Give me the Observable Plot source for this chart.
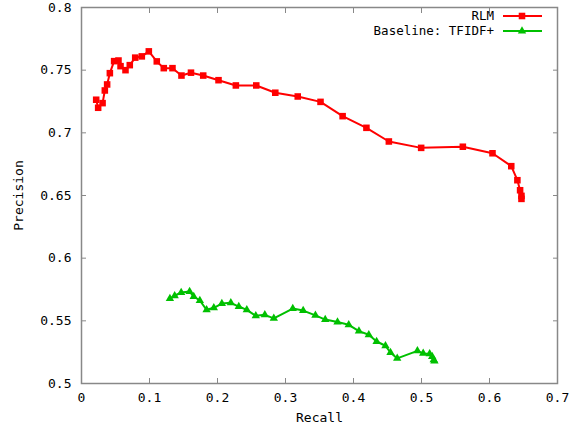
<!DOCTYPE html>
<html>
<head>
<meta charset="utf-8">
<script src="https://cdn.jsdelivr.net/npm/d3@7"></script>
<script src="https://cdn.jsdelivr.net/npm/@observablehq/plot@0.6"></script>
<style>
  html, body { margin: 0; padding: 0; background: #fff; }
  #chart { position: relative; width: 581px; height: 428px; }
  svg text { font-family: "DejaVu Sans Mono", monospace; }
</style>
</head>
<body>
<div id="chart"></div>
<script>
// ---- Data ----
const rlmRecall = [0.0216, 0.0245, 0.031, 0.0343, 0.0377, 0.0417, 0.048, 0.0544, 0.0574, 0.0647, 0.071, 0.079, 0.0887, 0.099, 0.1107, 0.121, 0.1338, 0.147, 0.161, 0.179, 0.2015, 0.227, 0.257, 0.285, 0.318, 0.3515, 0.384, 0.419, 0.452, 0.4995, 0.5608, 0.6044, 0.632, 0.641, 0.645, 0.647, 0.647];
const rlmPrecision = [0.7264, 0.720, 0.7237, 0.7338, 0.7386, 0.7476, 0.7572, 0.7577, 0.7532, 0.750, 0.754, 0.760, 0.761, 0.765, 0.757, 0.7516, 0.7516, 0.7457, 0.748, 0.7457, 0.742, 0.7378, 0.7378, 0.732, 0.729, 0.7247, 0.7133, 0.704, 0.6931, 0.688, 0.6889, 0.6837, 0.6734, 0.6622, 0.6542, 0.6497, 0.6473];
const baseRecall = [0.130, 0.137, 0.1466, 0.159, 0.165, 0.174, 0.184, 0.1946, 0.2064, 0.2196, 0.2313, 0.2431, 0.2563, 0.2696, 0.2828, 0.3107, 0.326, 0.344, 0.3584, 0.3765, 0.393, 0.408, 0.4225, 0.434, 0.447, 0.4544, 0.4643, 0.494, 0.5025, 0.512, 0.5157, 0.518, 0.519];
const basePrecision = [0.5678, 0.570, 0.5726, 0.5734, 0.5694, 0.5662, 0.5588, 0.5604, 0.5638, 0.5644, 0.5614, 0.5588, 0.554, 0.5548, 0.552, 0.5598, 0.5582, 0.5543, 0.551, 0.549, 0.5468, 0.5418, 0.5389, 0.5335, 0.5301, 0.5247, 0.520, 0.526, 0.524, 0.5237, 0.5215, 0.5189, 0.5178];
const xTicks = [0, 0.1, 0.2, 0.3, 0.4, 0.5, 0.6, 0.7];
const yTicks = [0.5, 0.55, 0.6, 0.65, 0.7, 0.75, 0.8];
const seriesNames = ["RLM", "Baseline: TFIDF+"];
const seriesColors = ["#ff0000", "#00c000"];
const seriesSymbols = ["square", "triangle"];

const rlm = rlmRecall.map((x, i) => ({x, y: rlmPrecision[i]}));
const base = baseRecall.map((x, i) => ({x, y: basePrecision[i]}));
const fmt = d => String(+d.toFixed(2));
const frameColor = "#888";

const plot = Plot.plot({
  width: 581,
  height: 428,
  marginLeft: 81,
  marginRight: 24,
  marginTop: 7,
  marginBottom: 45,
  style: {fontFamily: "DejaVu Sans Mono, monospace", fontSize: "13px", color: "#000", background: "#fff"},
  x: {domain: [0, 0.7]},
  y: {domain: [0.5, 0.8]},
  marks: [
    Plot.frame({stroke: frameColor, strokeWidth: 1.5}),
    Plot.axisX(xTicks, {anchor: "bottom", tickSize: -5, stroke: frameColor, tickPadding: 14, tickFormat: fmt, label: "Recall", labelAnchor: "center", labelArrow: "none", labelOffset: 38, fill: "#000"}),
    Plot.axisX(xTicks, {anchor: "top", tickSize: -5, stroke: frameColor, tickFormat: () => "", label: null}),
    Plot.axisY(yTicks, {anchor: "left", tickSize: -5, stroke: frameColor, tickPadding: 15, tickFormat: fmt, label: "Precision", labelAnchor: "center", labelArrow: "none", labelOffset: 68, fill: "#000"}),
    Plot.axisY(yTicks, {anchor: "right", tickSize: -5, stroke: frameColor, tickFormat: () => "", label: null}),
    Plot.line(rlm, {x: "x", y: "y", stroke: seriesColors[0], strokeWidth: 2}),
    Plot.dot(rlm, {x: "x", y: "y", symbol: seriesSymbols[0], fill: seriesColors[0], r: 3.7}),
    Plot.line(base, {x: "x", y: "y", stroke: seriesColors[1], strokeWidth: 2}),
    Plot.dot(base, {x: "x", y: "y", symbol: seriesSymbols[1], fill: seriesColors[1], r: 3.1})
  ]
});
document.getElementById("chart").appendChild(plot);

// ---- Legend (inside top-right, gnuplot style) ----
const svg = d3.select(plot);
const lg = svg.append("g").attr("font-family", "DejaVu Sans Mono, monospace").attr("font-size", 12.5);
const rowY = [16, 31];
seriesNames.forEach((name, i) => {
  const y = rowY[i];
  lg.append("text").attr("x", 494).attr("y", y).attr("dy", "0.35em").attr("text-anchor", "end").attr("fill", "#000").text(name);
  lg.append("line").attr("x1", 503).attr("x2", 542).attr("y1", y).attr("y2", y).attr("stroke", seriesColors[i]).attr("stroke-width", 2);
  const sym = seriesSymbols[i] === "square" ? d3.symbolSquare : d3.symbolTriangle;
  const r = i === 0 ? 3.7 : 3.1;
  lg.append("path").attr("transform", `translate(522,${y})`).attr("d", d3.symbol(sym, r * r * Math.PI)()).attr("fill", seriesColors[i]);
});
</script>
</body>
</html>
